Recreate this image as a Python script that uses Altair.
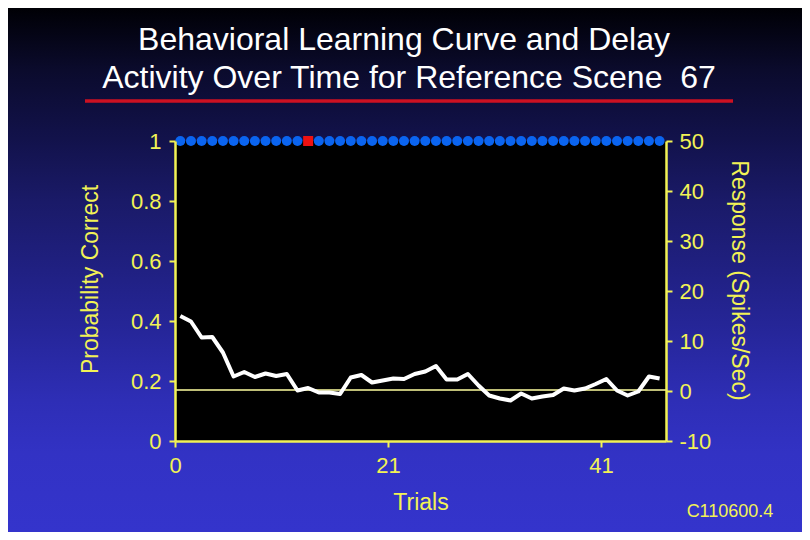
import altair as alt
import pandas as pd

# ---- data ----
trials = list(range(1, 47))
prob_correct = [1.0] * 46
marker = ["correct"] * 12 + ["flag"] + ["correct"] * 33
response = [15.0, 13.9, 10.7, 10.8, 7.7, 2.9, 3.8, 2.8, 3.5, 3.0,
            3.4, 0.1, 0.6, -0.3, -0.3, -0.6, 2.7, 3.2, 1.7, 2.1,
            2.5, 2.4, 3.4, 3.9, 5.0, 2.3, 2.3, 3.4, 1.1, -0.9,
            -1.5, -1.9, -0.5, -1.5, -1.1, -0.8, 0.5, 0.1, 0.5, 1.4,
            2.4, 0.1, -0.9, -0.1, 2.9, 2.5]
baseline = [0.2]
x_ticks = [0, 20, 40]
left_ticks = [0, 0.2, 0.4, 0.6, 0.8, 1]
right_ticks = [-10, 0, 10, 20, 30, 40, 50]
title_line1 = ["Behavioral Learning Curve and Delay"]
title_line2 = ["Activity Over Time for Reference Scene \u00a067"]
code_label = ["C110600.4"]

df = pd.DataFrame({"trial": trials, "prob": prob_correct,
                   "marker": marker, "response": response})

FONT = "Liberation Sans, Arial, sans-serif"
YEL = "#f2f255"
W, H = 491, 300
PL, PT, PR, PB = 167, 133, 136, 91

xscale = alt.Scale(domain=[0, 46.1], nice=False, zero=False)
xaxis = alt.Axis(values=x_ticks, title="Trials", zindex=2, labelFlush=False,
                 labelExpr="datum.value == 0 ? '0' : '' + (datum.value + 1)",
                 labelPadding=8, titlePadding=15, titleFontSize=23)
xenc = alt.X("x:Q", scale=xscale, axis=xaxis)

bg = alt.Chart(alt.Data(values=[{}])).mark_rect(
    fill=alt.Gradient(
        gradient="linear", x1=0, y1=0, x2=0, y2=1,
        stops=[alt.GradientStop(offset=0, color="#000005"),
               alt.GradientStop(offset=0.12, color="#0b0b2d"),
               alt.GradientStop(offset=0.25, color="#12124b"),
               alt.GradientStop(offset=0.37, color="#1a1a68"),
               alt.GradientStop(offset=0.5, color="#202082"),
               alt.GradientStop(offset=0.62, color="#26269a"),
               alt.GradientStop(offset=0.75, color="#2e2eb6"),
               alt.GradientStop(offset=0.85, color="#3232c4"),
               alt.GradientStop(offset=1, color="#3434cc")])
).encode(x=alt.value(-PL), x2=alt.value(W + PR),
         y=alt.value(-PT), y2=alt.value(H + PB))

plotbg = alt.Chart(alt.Data(values=[{}])).mark_rect(fill="black").encode(
    x=alt.value(0), x2=alt.value(W), y=alt.value(0), y2=alt.value(H))

redline = alt.Chart(alt.Data(values=[{}])).mark_rule(
    color="#cc1122", strokeWidth=3.5).encode(
    x=alt.value(-90), x2=alt.value(558), y=alt.value(-40))

t1 = alt.Chart(pd.DataFrame({"t": title_line1})).mark_text(
    font=FONT, fontSize=32, color="white", align="center",
    baseline="alphabetic").encode(text="t:N", x=alt.value(229),
                                  y=alt.value(-91))
t2 = alt.Chart(pd.DataFrame({"t": title_line2})).mark_text(
    font=FONT, fontSize=32, color="white", align="center",
    baseline="alphabetic").encode(text="t:N", x=alt.value(234),
                                  y=alt.value(-53))

code_txt = alt.Chart(pd.DataFrame({"t": code_label})).mark_text(
    font=FONT, fontSize=18, color=YEL, align="center", baseline="middle"
).encode(text="t:N", x=alt.value(555), y=alt.value(371))

base = alt.Chart(df).transform_calculate(x="datum.trial - 0.5")

dots = base.mark_point(filled=True, size=100, opacity=1).encode(
    x=xenc,
    y=alt.Y("prob:Q", scale=alt.Scale(domain=[0, 1], nice=False),
            axis=alt.Axis(orient="left", values=left_ticks, format="~g",
                          zindex=2, labelPadding=8,
                          title="Probability Correct", titlePadding=28,
                          titleFontSize=23, titleY=138)),
    color=alt.Color("marker:N", legend=None,
                    scale=alt.Scale(domain=["correct", "flag"],
                                    range=["#0a64f0", "#ee1111"])),
    shape=alt.Shape("marker:N", legend=None,
                    scale=alt.Scale(domain=["correct", "flag"],
                                    range=["circle", "square"])),
)

rscale = alt.Scale(domain=[-10, 50], nice=False, zero=False)
raxis = alt.Axis(orient="right", values=right_ticks, zindex=2,
                 labelExpr="'' + datum.value",
                 title="Response (Spikes/Sec)", titlePadding=16,
                 titleFontSize=23, titleY=139, labelPadding=7)

line = base.mark_line(color="white", strokeWidth=4, strokeJoin="round").encode(
    x=xenc, y=alt.Y("response:Q", scale=rscale, axis=raxis))

base_rule = alt.Chart(pd.DataFrame({"b": baseline})).mark_rule(
    color="#ffffa0", strokeWidth=1.5).encode(
    y=alt.Y("b:Q", scale=rscale, axis=raxis),
    x=alt.value(0), x2=alt.value(W))

right = alt.layer(base_rule, line)

chart = alt.layer(bg, plotbg, redline, t1, t2, code_txt, dots, right
                  ).resolve_scale(y="independent").properties(
    width=W, height=H,
    autosize=alt.AutoSizeParams(type="none"),
    padding={"left": PL, "top": PT, "right": PR, "bottom": PB},
    background="#1a1a66",
).configure_view(stroke="transparent").configure_axis(
    grid=False,
    domainColor=YEL, domainWidth=2.5, tickColor=YEL, tickWidth=2,
    tickSize=6, labelColor=YEL, labelFontSize=22, labelFont=FONT,
    titleColor=YEL, titleFontSize=22, titleFont=FONT,
    titleFontWeight="normal", labelPadding=6,
)

chart.save("out.html", embed_options={"renderer": "svg", "actions": False})
